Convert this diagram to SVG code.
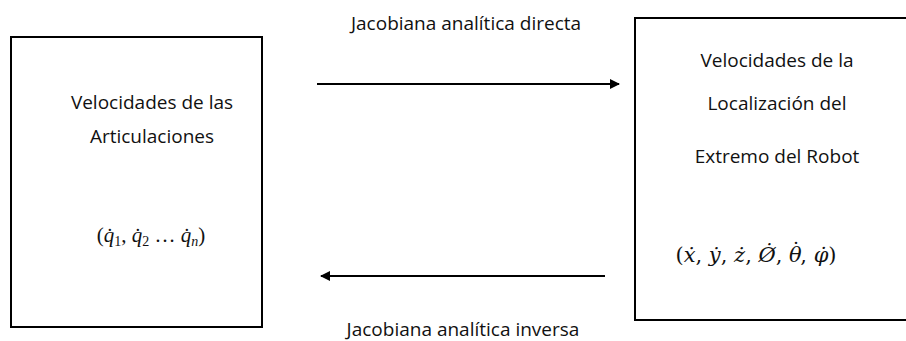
<svg xmlns="http://www.w3.org/2000/svg" width="906" height="341" viewBox="0 0 906 341">
<style>
.box{fill:#fff;stroke:#000;stroke-width:2}
.lbl{font-family:"Open Sans","Liberation Sans",sans-serif;font-size:19px;fill:#111;text-anchor:middle}
.math{font-family:"Liberation Serif","DejaVu Serif",serif;font-size:21px;fill:#111;text-anchor:middle}
.math2{font-family:"DejaVu Serif",serif;font-size:21px;fill:#111;text-anchor:middle}
.var{font-style:italic}
.sub{font-size:14px}
.conn{stroke:#000;stroke-width:2;fill:none}
</style>
<defs>
<marker id="ah" viewBox="0 0 10 10" refX="9" refY="5" markerWidth="5" markerHeight="5" orient="auto" markerUnits="strokeWidth">
<path d="M0,0 L10,5 L0,10 z" fill="#000"/>
</marker>
</defs>
<rect width="906" height="341" fill="#fff"/>
<g id="node-articulaciones">
<rect class="box" x="11" y="37" width="251" height="290"/>
<text class="lbl" x="152" y="109">Velocidades de las</text>
<text class="lbl" x="152" y="143">Articulaciones</text>
<text class="math" x="151" y="242">(<tspan class="var">q̇</tspan><tspan class="sub" dy="4">1</tspan><tspan dy="-4">, </tspan><tspan class="var">q̇</tspan><tspan class="sub" dy="4">2</tspan><tspan dy="-4"> … </tspan><tspan class="var">q̇</tspan><tspan class="var sub" dy="4">n</tspan><tspan dy="-4">)</tspan></text>
</g>
<g id="node-extremo">
<rect class="box" x="635" y="18" width="290" height="302"/>
<text class="lbl" x="777" y="67">Velocidades de la</text>
<text class="lbl" x="777" y="110">Localización del</text>
<text class="lbl" x="777" y="163">Extremo del Robot</text>
<text class="math2" x="756" y="262">(<tspan class="var">ẋ</tspan>, <tspan class="var">ẏ</tspan>, <tspan class="var">ż</tspan>, <tspan class="var">Ø̇</tspan>, <tspan class="var">θ</tspan><tspan dx="-11" dy="-5">˙</tspan><tspan dx="-1" dy="5">, </tspan><tspan class="var">φ̇</tspan>)</text>
</g>
<g id="connectors">
<line class="conn" x1="317" y1="84" x2="619" y2="84" marker-end="url(#ah)"/>
<line class="conn" x1="605" y1="276" x2="321" y2="276" marker-end="url(#ah)"/>
<text class="lbl" x="466" y="30">Jacobiana analítica directa</text>
<text class="lbl" x="463" y="336">Jacobiana analítica inversa</text>
</g>
</svg>
